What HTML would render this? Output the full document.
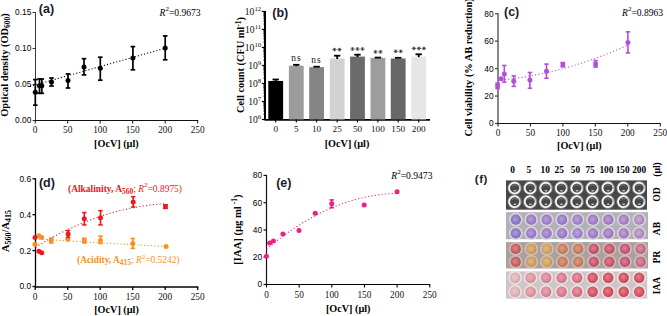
<!DOCTYPE html>
<html><head><meta charset="utf-8"><style>
html,body{margin:0;padding:0;background:#fff;}
body{width:667px;height:316px;overflow:hidden;}
svg{display:block;}
</style></head><body>
<svg width="667" height="316" viewBox="0 0 667 316">
<defs><radialGradient id="wg" cx="0.45" cy="0.45" r="0.6"><stop offset="0" stop-color="#fff" stop-opacity="0.32"/><stop offset="0.6" stop-color="#fff" stop-opacity="0.08"/><stop offset="1" stop-color="#000" stop-opacity="0.12"/></radialGradient></defs>
<rect width="667" height="316" fill="#fff"/>
<line x1="35.50" y1="12.00" x2="35.50" y2="121.00" stroke="#3a3a3a" stroke-width="1.0" />
<line x1="32.50" y1="120.50" x2="35.50" y2="120.50" stroke="#3a3a3a" stroke-width="1.0" />
<text x="31.30" y="123.40" font-size="8.4" text-anchor="end" font-weight="normal" font-family='"Liberation Sans", sans-serif' fill="#000" >0.00</text>
<line x1="32.50" y1="84.50" x2="35.50" y2="84.50" stroke="#3a3a3a" stroke-width="1.0" />
<text x="31.30" y="87.40" font-size="8.4" text-anchor="end" font-weight="normal" font-family='"Liberation Sans", sans-serif' fill="#000" >0.05</text>
<line x1="32.50" y1="48.50" x2="35.50" y2="48.50" stroke="#3a3a3a" stroke-width="1.0" />
<text x="31.30" y="51.40" font-size="8.4" text-anchor="end" font-weight="normal" font-family='"Liberation Sans", sans-serif' fill="#000" >0.10</text>
<line x1="32.50" y1="12.50" x2="35.50" y2="12.50" stroke="#3a3a3a" stroke-width="1.0" />
<text x="31.30" y="15.40" font-size="8.4" text-anchor="end" font-weight="normal" font-family='"Liberation Sans", sans-serif' fill="#000" >0.15</text>
<line x1="35.00" y1="120.50" x2="198.20" y2="120.50" stroke="#111" stroke-width="1.0" />
<line x1="35.20" y1="120.50" x2="35.20" y2="123.50" stroke="#111" stroke-width="1.0" />
<text x="35.20" y="133.30" font-size="9.3" text-anchor="middle" font-weight="normal" font-family='"Liberation Serif", serif' fill="#111" >0</text>
<line x1="67.70" y1="120.50" x2="67.70" y2="123.50" stroke="#111" stroke-width="1.0" />
<text x="67.70" y="133.30" font-size="9.3" text-anchor="middle" font-weight="normal" font-family='"Liberation Serif", serif' fill="#111" >50</text>
<line x1="100.20" y1="120.50" x2="100.20" y2="123.50" stroke="#111" stroke-width="1.0" />
<text x="100.20" y="133.30" font-size="9.3" text-anchor="middle" font-weight="normal" font-family='"Liberation Serif", serif' fill="#111" >100</text>
<line x1="132.70" y1="120.50" x2="132.70" y2="123.50" stroke="#111" stroke-width="1.0" />
<text x="132.70" y="133.30" font-size="9.3" text-anchor="middle" font-weight="normal" font-family='"Liberation Serif", serif' fill="#111" >150</text>
<line x1="165.20" y1="120.50" x2="165.20" y2="123.50" stroke="#111" stroke-width="1.0" />
<text x="165.20" y="133.30" font-size="9.3" text-anchor="middle" font-weight="normal" font-family='"Liberation Serif", serif' fill="#111" >200</text>
<line x1="197.70" y1="120.50" x2="197.70" y2="123.50" stroke="#111" stroke-width="1.0" />
<text x="197.70" y="133.30" font-size="9.3" text-anchor="middle" font-weight="normal" font-family='"Liberation Serif", serif' fill="#111" >250</text>
<text x="116.40" y="147.00" font-size="10.2" text-anchor="middle" font-weight="bold" font-family='"Liberation Serif", serif' fill="#000" >[OcV] (&#181;l)</text>
<text x="0" y="0" transform="translate(8.40,65.00) rotate(-90)" font-size="10.4" text-anchor="middle" font-weight="bold" font-family='"Liberation Serif", serif' fill="#000">Optical density (OD<tspan font-size="7.5" dy="2">600</tspan><tspan dy="-2">)</tspan></text>
<text x="38.80" y="13.20" font-size="12.5" text-anchor="start" font-weight="bold" font-family='"Liberation Sans", sans-serif' fill="#1a1a2a" >(a)</text>
<text x="159.50" y="15.50" font-size="9.6" text-anchor="start" font-weight="normal" font-family='"Liberation Serif", serif' fill="#000" ><tspan font-style="italic">R</tspan><tspan font-size="7" dy="-4.6">2</tspan><tspan dy="4.6">=0.9673</tspan></text>
<path d="M30.00,86.40 L165.20,48.20" fill="none" stroke="#000" stroke-width="1.1" stroke-dasharray="1.1 2.1"/>
<line x1="35.30" y1="79.60" x2="35.30" y2="105.20" stroke="#000" stroke-width="1.7" />
<line x1="33.00" y1="79.60" x2="37.60" y2="79.60" stroke="#000" stroke-width="1.7" />
<line x1="33.00" y1="105.20" x2="37.60" y2="105.20" stroke="#000" stroke-width="1.7" />
<circle cx="35.30" cy="92.30" r="2.5" fill="#000"/>
<line x1="39.50" y1="79.00" x2="39.50" y2="93.30" stroke="#000" stroke-width="1.7" />
<line x1="37.20" y1="79.00" x2="41.80" y2="79.00" stroke="#000" stroke-width="1.7" />
<line x1="37.20" y1="93.30" x2="41.80" y2="93.30" stroke="#000" stroke-width="1.7" />
<circle cx="39.50" cy="85.70" r="2.5" fill="#000"/>
<line x1="41.80" y1="79.00" x2="41.80" y2="93.30" stroke="#000" stroke-width="1.7" />
<line x1="39.50" y1="79.00" x2="44.10" y2="79.00" stroke="#000" stroke-width="1.7" />
<line x1="39.50" y1="93.30" x2="44.10" y2="93.30" stroke="#000" stroke-width="1.7" />
<circle cx="41.80" cy="85.70" r="2.5" fill="#000"/>
<line x1="51.50" y1="78.00" x2="51.50" y2="86.00" stroke="#000" stroke-width="1.7" />
<line x1="49.20" y1="78.00" x2="53.80" y2="78.00" stroke="#000" stroke-width="1.7" />
<line x1="49.20" y1="86.00" x2="53.80" y2="86.00" stroke="#000" stroke-width="1.7" />
<circle cx="51.50" cy="81.90" r="2.5" fill="#000"/>
<line x1="68.00" y1="73.90" x2="68.00" y2="88.00" stroke="#000" stroke-width="1.7" />
<line x1="65.70" y1="73.90" x2="70.30" y2="73.90" stroke="#000" stroke-width="1.7" />
<line x1="65.70" y1="88.00" x2="70.30" y2="88.00" stroke="#000" stroke-width="1.7" />
<circle cx="68.00" cy="80.50" r="2.5" fill="#000"/>
<line x1="84.00" y1="58.70" x2="84.00" y2="74.90" stroke="#000" stroke-width="1.7" />
<line x1="81.70" y1="58.70" x2="86.30" y2="58.70" stroke="#000" stroke-width="1.7" />
<line x1="81.70" y1="74.90" x2="86.30" y2="74.90" stroke="#000" stroke-width="1.7" />
<circle cx="84.00" cy="66.90" r="2.5" fill="#000"/>
<line x1="100.30" y1="57.20" x2="100.30" y2="80.20" stroke="#000" stroke-width="1.7" />
<line x1="98.00" y1="57.20" x2="102.60" y2="57.20" stroke="#000" stroke-width="1.7" />
<line x1="98.00" y1="80.20" x2="102.60" y2="80.20" stroke="#000" stroke-width="1.7" />
<circle cx="100.30" cy="68.30" r="2.5" fill="#000"/>
<line x1="132.90" y1="46.60" x2="132.90" y2="69.80" stroke="#000" stroke-width="1.7" />
<line x1="130.60" y1="46.60" x2="135.20" y2="46.60" stroke="#000" stroke-width="1.7" />
<line x1="130.60" y1="69.80" x2="135.20" y2="69.80" stroke="#000" stroke-width="1.7" />
<circle cx="132.90" cy="58.10" r="2.5" fill="#000"/>
<line x1="165.20" y1="35.90" x2="165.20" y2="59.80" stroke="#000" stroke-width="1.7" />
<line x1="162.90" y1="35.90" x2="167.50" y2="35.90" stroke="#000" stroke-width="1.7" />
<line x1="162.90" y1="59.80" x2="167.50" y2="59.80" stroke="#000" stroke-width="1.7" />
<circle cx="165.20" cy="47.90" r="2.5" fill="#000"/>
<line x1="265.00" y1="10.90" x2="265.00" y2="120.00" stroke="#000" stroke-width="2.0" />
<line x1="261.80" y1="11.40" x2="265.00" y2="11.40" stroke="#000" stroke-width="1.2" />
<text x="261.20" y="14.90" font-size="9.6" text-anchor="end" font-weight="normal" font-family='"Liberation Serif", serif' fill="#111" >10<tspan font-size="6.8" dy="-3.8">12</tspan></text>
<line x1="263.20" y1="23.99" x2="265.00" y2="23.99" stroke="#000" stroke-width="0.7" />
<line x1="263.20" y1="20.82" x2="265.00" y2="20.82" stroke="#000" stroke-width="0.7" />
<line x1="263.20" y1="18.57" x2="265.00" y2="18.57" stroke="#000" stroke-width="0.7" />
<line x1="263.20" y1="16.82" x2="265.00" y2="16.82" stroke="#000" stroke-width="0.7" />
<line x1="263.20" y1="15.40" x2="265.00" y2="15.40" stroke="#000" stroke-width="0.7" />
<line x1="263.20" y1="14.19" x2="265.00" y2="14.19" stroke="#000" stroke-width="0.7" />
<line x1="263.20" y1="13.15" x2="265.00" y2="13.15" stroke="#000" stroke-width="0.7" />
<line x1="263.20" y1="12.22" x2="265.00" y2="12.22" stroke="#000" stroke-width="0.7" />
<line x1="261.80" y1="29.42" x2="265.00" y2="29.42" stroke="#000" stroke-width="1.2" />
<text x="261.20" y="32.92" font-size="9.6" text-anchor="end" font-weight="normal" font-family='"Liberation Serif", serif' fill="#111" >10<tspan font-size="6.8" dy="-3.8">11</tspan></text>
<line x1="263.20" y1="42.01" x2="265.00" y2="42.01" stroke="#000" stroke-width="0.7" />
<line x1="263.20" y1="38.84" x2="265.00" y2="38.84" stroke="#000" stroke-width="0.7" />
<line x1="263.20" y1="36.59" x2="265.00" y2="36.59" stroke="#000" stroke-width="0.7" />
<line x1="263.20" y1="34.84" x2="265.00" y2="34.84" stroke="#000" stroke-width="0.7" />
<line x1="263.20" y1="33.41" x2="265.00" y2="33.41" stroke="#000" stroke-width="0.7" />
<line x1="263.20" y1="32.21" x2="265.00" y2="32.21" stroke="#000" stroke-width="0.7" />
<line x1="263.20" y1="31.16" x2="265.00" y2="31.16" stroke="#000" stroke-width="0.7" />
<line x1="263.20" y1="30.24" x2="265.00" y2="30.24" stroke="#000" stroke-width="0.7" />
<line x1="261.80" y1="47.43" x2="265.00" y2="47.43" stroke="#000" stroke-width="1.2" />
<text x="261.20" y="50.93" font-size="9.6" text-anchor="end" font-weight="normal" font-family='"Liberation Serif", serif' fill="#111" >10<tspan font-size="6.8" dy="-3.8">10</tspan></text>
<line x1="263.20" y1="60.03" x2="265.00" y2="60.03" stroke="#000" stroke-width="0.7" />
<line x1="263.20" y1="56.85" x2="265.00" y2="56.85" stroke="#000" stroke-width="0.7" />
<line x1="263.20" y1="54.60" x2="265.00" y2="54.60" stroke="#000" stroke-width="0.7" />
<line x1="263.20" y1="52.86" x2="265.00" y2="52.86" stroke="#000" stroke-width="0.7" />
<line x1="263.20" y1="51.43" x2="265.00" y2="51.43" stroke="#000" stroke-width="0.7" />
<line x1="263.20" y1="50.22" x2="265.00" y2="50.22" stroke="#000" stroke-width="0.7" />
<line x1="263.20" y1="49.18" x2="265.00" y2="49.18" stroke="#000" stroke-width="0.7" />
<line x1="263.20" y1="48.26" x2="265.00" y2="48.26" stroke="#000" stroke-width="0.7" />
<line x1="261.80" y1="65.45" x2="265.00" y2="65.45" stroke="#000" stroke-width="1.2" />
<text x="261.20" y="68.95" font-size="9.6" text-anchor="end" font-weight="normal" font-family='"Liberation Serif", serif' fill="#111" >10<tspan font-size="6.8" dy="-3.8">9</tspan></text>
<line x1="263.20" y1="78.04" x2="265.00" y2="78.04" stroke="#000" stroke-width="0.7" />
<line x1="263.20" y1="74.87" x2="265.00" y2="74.87" stroke="#000" stroke-width="0.7" />
<line x1="263.20" y1="72.62" x2="265.00" y2="72.62" stroke="#000" stroke-width="0.7" />
<line x1="263.20" y1="70.87" x2="265.00" y2="70.87" stroke="#000" stroke-width="0.7" />
<line x1="263.20" y1="69.45" x2="265.00" y2="69.45" stroke="#000" stroke-width="0.7" />
<line x1="263.20" y1="68.24" x2="265.00" y2="68.24" stroke="#000" stroke-width="0.7" />
<line x1="263.20" y1="67.20" x2="265.00" y2="67.20" stroke="#000" stroke-width="0.7" />
<line x1="263.20" y1="66.27" x2="265.00" y2="66.27" stroke="#000" stroke-width="0.7" />
<line x1="261.80" y1="83.47" x2="265.00" y2="83.47" stroke="#000" stroke-width="1.2" />
<text x="261.20" y="86.97" font-size="9.6" text-anchor="end" font-weight="normal" font-family='"Liberation Serif", serif' fill="#111" >10<tspan font-size="6.8" dy="-3.8">8</tspan></text>
<line x1="263.20" y1="96.06" x2="265.00" y2="96.06" stroke="#000" stroke-width="0.7" />
<line x1="263.20" y1="92.89" x2="265.00" y2="92.89" stroke="#000" stroke-width="0.7" />
<line x1="263.20" y1="90.64" x2="265.00" y2="90.64" stroke="#000" stroke-width="0.7" />
<line x1="263.20" y1="88.89" x2="265.00" y2="88.89" stroke="#000" stroke-width="0.7" />
<line x1="263.20" y1="87.46" x2="265.00" y2="87.46" stroke="#000" stroke-width="0.7" />
<line x1="263.20" y1="86.26" x2="265.00" y2="86.26" stroke="#000" stroke-width="0.7" />
<line x1="263.20" y1="85.21" x2="265.00" y2="85.21" stroke="#000" stroke-width="0.7" />
<line x1="263.20" y1="84.29" x2="265.00" y2="84.29" stroke="#000" stroke-width="0.7" />
<line x1="261.80" y1="101.48" x2="265.00" y2="101.48" stroke="#000" stroke-width="1.2" />
<text x="261.20" y="104.98" font-size="9.6" text-anchor="end" font-weight="normal" font-family='"Liberation Serif", serif' fill="#111" >10<tspan font-size="6.8" dy="-3.8">7</tspan></text>
<line x1="263.20" y1="114.08" x2="265.00" y2="114.08" stroke="#000" stroke-width="0.7" />
<line x1="263.20" y1="110.90" x2="265.00" y2="110.90" stroke="#000" stroke-width="0.7" />
<line x1="263.20" y1="108.65" x2="265.00" y2="108.65" stroke="#000" stroke-width="0.7" />
<line x1="263.20" y1="106.91" x2="265.00" y2="106.91" stroke="#000" stroke-width="0.7" />
<line x1="263.20" y1="105.48" x2="265.00" y2="105.48" stroke="#000" stroke-width="0.7" />
<line x1="263.20" y1="104.27" x2="265.00" y2="104.27" stroke="#000" stroke-width="0.7" />
<line x1="263.20" y1="103.23" x2="265.00" y2="103.23" stroke="#000" stroke-width="0.7" />
<line x1="263.20" y1="102.31" x2="265.00" y2="102.31" stroke="#000" stroke-width="0.7" />
<line x1="261.80" y1="119.50" x2="265.00" y2="119.50" stroke="#000" stroke-width="1.2" />
<text x="261.20" y="123.00" font-size="9.6" text-anchor="end" font-weight="normal" font-family='"Liberation Serif", serif' fill="#111" >10<tspan font-size="6.8" dy="-3.8">6</tspan></text>
<line x1="264.50" y1="119.80" x2="430.00" y2="119.80" stroke="#000" stroke-width="1.8" />
<rect x="268.30" y="81.00" width="14.8" height="38.50" fill="#000000"/>
<line x1="275.70" y1="79.50" x2="275.70" y2="81.50" stroke="#000" stroke-width="1.8" />
<line x1="272.50" y1="79.50" x2="278.90" y2="79.50" stroke="#000" stroke-width="1.8" />
<line x1="275.70" y1="119.50" x2="275.70" y2="122.50" stroke="#000" stroke-width="1.1" />
<text x="275.70" y="132.40" font-size="9.2" text-anchor="middle" font-weight="normal" font-family='"Liberation Serif", serif' fill="#111" >0</text>
<rect x="288.90" y="65.70" width="14.8" height="53.80" fill="#9c9c9c"/>
<line x1="296.30" y1="64.80" x2="296.30" y2="66.20" stroke="#000" stroke-width="1.8" />
<line x1="293.10" y1="64.80" x2="299.50" y2="64.80" stroke="#000" stroke-width="1.8" />
<line x1="296.30" y1="119.50" x2="296.30" y2="122.50" stroke="#000" stroke-width="1.1" />
<text x="296.30" y="132.40" font-size="9.2" text-anchor="middle" font-weight="normal" font-family='"Liberation Serif", serif' fill="#111" >5</text>
<rect x="309.20" y="67.10" width="14.8" height="52.40" fill="#858585"/>
<line x1="313.40" y1="66.70" x2="319.80" y2="66.70" stroke="#000" stroke-width="1.8" />
<line x1="316.60" y1="119.50" x2="316.60" y2="122.50" stroke="#000" stroke-width="1.1" />
<text x="316.60" y="132.40" font-size="9.2" text-anchor="middle" font-weight="normal" font-family='"Liberation Serif", serif' fill="#111" >10</text>
<rect x="329.80" y="58.50" width="14.8" height="61.00" fill="#d2d2d2"/>
<line x1="337.20" y1="55.70" x2="337.20" y2="59.00" stroke="#000" stroke-width="1.8" />
<line x1="334.00" y1="55.70" x2="340.40" y2="55.70" stroke="#000" stroke-width="1.8" />
<line x1="337.20" y1="119.50" x2="337.20" y2="122.50" stroke="#000" stroke-width="1.1" />
<text x="337.20" y="132.40" font-size="9.2" text-anchor="middle" font-weight="normal" font-family='"Liberation Serif", serif' fill="#111" >25</text>
<rect x="350.10" y="56.60" width="14.8" height="62.90" fill="#6b6b6b"/>
<line x1="357.50" y1="54.70" x2="357.50" y2="57.10" stroke="#000" stroke-width="1.8" />
<line x1="354.30" y1="54.70" x2="360.70" y2="54.70" stroke="#000" stroke-width="1.8" />
<line x1="357.50" y1="119.50" x2="357.50" y2="122.50" stroke="#000" stroke-width="1.1" />
<text x="357.50" y="132.40" font-size="9.2" text-anchor="middle" font-weight="normal" font-family='"Liberation Serif", serif' fill="#111" >50</text>
<rect x="370.50" y="57.90" width="14.8" height="61.60" fill="#9d9d9d"/>
<line x1="374.70" y1="57.60" x2="381.10" y2="57.60" stroke="#000" stroke-width="1.8" />
<line x1="377.90" y1="119.50" x2="377.90" y2="122.50" stroke="#000" stroke-width="1.1" />
<text x="377.90" y="132.40" font-size="9.2" text-anchor="middle" font-weight="normal" font-family='"Liberation Serif", serif' fill="#111" >100</text>
<rect x="390.80" y="58.50" width="14.8" height="61.00" fill="#676767"/>
<line x1="395.00" y1="57.80" x2="401.40" y2="57.80" stroke="#000" stroke-width="1.8" />
<line x1="398.20" y1="119.50" x2="398.20" y2="122.50" stroke="#000" stroke-width="1.1" />
<text x="398.20" y="132.40" font-size="9.2" text-anchor="middle" font-weight="normal" font-family='"Liberation Serif", serif' fill="#111" >150</text>
<rect x="411.30" y="56.60" width="14.8" height="62.90" fill="#e6e6e6"/>
<line x1="418.70" y1="54.30" x2="418.70" y2="57.10" stroke="#000" stroke-width="1.8" />
<line x1="415.50" y1="54.30" x2="421.90" y2="54.30" stroke="#000" stroke-width="1.8" />
<line x1="418.70" y1="119.50" x2="418.70" y2="122.50" stroke="#000" stroke-width="1.1" />
<text x="418.70" y="132.40" font-size="9.2" text-anchor="middle" font-weight="normal" font-family='"Liberation Serif", serif' fill="#111" >200</text>
<text x="296.50" y="61.10" font-size="9.4" text-anchor="middle" font-weight="normal" font-family='"Liberation Serif", serif' fill="#111" letter-spacing="1.2">ns</text>
<text x="316.60" y="63.00" font-size="9.4" text-anchor="middle" font-weight="normal" font-family='"Liberation Serif", serif' fill="#111" letter-spacing="1.2">ns</text>
<path d="M332.30,49.60 L336.70,49.60 M333.40,48.08 L335.60,51.12 M335.60,48.08 L333.40,51.12 M334.50,47.80 L334.50,51.40" stroke="#333" stroke-width="0.75" fill="none"/>
<path d="M337.30,49.60 L341.70,49.60 M338.40,48.08 L340.60,51.12 M340.60,48.08 L338.40,51.12 M339.50,47.80 L339.50,51.40" stroke="#333" stroke-width="0.75" fill="none"/>
<path d="M350.30,49.00 L354.70,49.00 M351.40,47.48 L353.60,50.52 M353.60,47.48 L351.40,50.52 M352.50,47.20 L352.50,50.80" stroke="#333" stroke-width="0.75" fill="none"/>
<path d="M355.30,49.00 L359.70,49.00 M356.40,47.48 L358.60,50.52 M358.60,47.48 L356.40,50.52 M357.50,47.20 L357.50,50.80" stroke="#333" stroke-width="0.75" fill="none"/>
<path d="M360.30,49.00 L364.70,49.00 M361.40,47.48 L363.60,50.52 M363.60,47.48 L361.40,50.52 M362.50,47.20 L362.50,50.80" stroke="#333" stroke-width="0.75" fill="none"/>
<path d="M373.30,51.90 L377.70,51.90 M374.40,50.38 L376.60,53.42 M376.60,50.38 L374.40,53.42 M375.50,50.10 L375.50,53.70" stroke="#333" stroke-width="0.75" fill="none"/>
<path d="M378.30,51.90 L382.70,51.90 M379.40,50.38 L381.60,53.42 M381.60,50.38 L379.40,53.42 M380.50,50.10 L380.50,53.70" stroke="#333" stroke-width="0.75" fill="none"/>
<path d="M393.50,51.30 L397.90,51.30 M394.60,49.78 L396.80,52.82 M396.80,49.78 L394.60,52.82 M395.70,49.50 L395.70,53.10" stroke="#333" stroke-width="0.75" fill="none"/>
<path d="M398.50,51.30 L402.90,51.30 M399.60,49.78 L401.80,52.82 M401.80,49.78 L399.60,52.82 M400.70,49.50 L400.70,53.10" stroke="#333" stroke-width="0.75" fill="none"/>
<path d="M411.70,48.40 L416.10,48.40 M412.80,46.88 L415.00,49.92 M415.00,46.88 L412.80,49.92 M413.90,46.60 L413.90,50.20" stroke="#333" stroke-width="0.75" fill="none"/>
<path d="M416.70,48.40 L421.10,48.40 M417.80,46.88 L420.00,49.92 M420.00,46.88 L417.80,49.92 M418.90,46.60 L418.90,50.20" stroke="#333" stroke-width="0.75" fill="none"/>
<path d="M421.70,48.40 L426.10,48.40 M422.80,46.88 L425.00,49.92 M425.00,46.88 L422.80,49.92 M423.90,46.60 L423.90,50.20" stroke="#333" stroke-width="0.75" fill="none"/>
<text x="347.00" y="146.50" font-size="10.2" text-anchor="middle" font-weight="bold" font-family='"Liberation Serif", serif' fill="#000" >[OcV] (&#181;l)</text>
<text x="0" y="0" transform="translate(244.30,65.00) rotate(-90)" font-size="10.3" text-anchor="middle" font-weight="bold" font-family='"Liberation Serif", serif' fill="#000">Cell count (CFU ml<tspan font-size="7.5" dy="-3.5">-1</tspan><tspan dy="3.5">)</tspan></text>
<text x="272.30" y="16.60" font-size="12.5" text-anchor="start" font-weight="bold" font-family='"Liberation Sans", sans-serif' fill="#1a1a2a" >(b)</text>
<line x1="498.00" y1="13.20" x2="498.00" y2="124.00" stroke="#555" stroke-width="1.4" />
<line x1="495.00" y1="123.50" x2="498.00" y2="123.50" stroke="#555" stroke-width="1.4" />
<text x="493.60" y="126.40" font-size="8.4" text-anchor="end" font-weight="normal" font-family='"Liberation Sans", sans-serif' fill="#000" >0</text>
<line x1="495.00" y1="96.05" x2="498.00" y2="96.05" stroke="#555" stroke-width="1.4" />
<text x="493.60" y="98.95" font-size="8.4" text-anchor="end" font-weight="normal" font-family='"Liberation Sans", sans-serif' fill="#000" >20</text>
<line x1="495.00" y1="68.60" x2="498.00" y2="68.60" stroke="#555" stroke-width="1.4" />
<text x="493.60" y="71.50" font-size="8.4" text-anchor="end" font-weight="normal" font-family='"Liberation Sans", sans-serif' fill="#000" >40</text>
<line x1="495.00" y1="41.15" x2="498.00" y2="41.15" stroke="#555" stroke-width="1.4" />
<text x="493.60" y="44.05" font-size="8.4" text-anchor="end" font-weight="normal" font-family='"Liberation Sans", sans-serif' fill="#000" >60</text>
<line x1="495.00" y1="13.70" x2="498.00" y2="13.70" stroke="#555" stroke-width="1.4" />
<text x="493.60" y="16.60" font-size="8.4" text-anchor="end" font-weight="normal" font-family='"Liberation Sans", sans-serif' fill="#000" >80</text>
<line x1="497.50" y1="123.50" x2="660.75" y2="123.50" stroke="#111" stroke-width="1.0" />
<line x1="498.00" y1="123.50" x2="498.00" y2="126.50" stroke="#111" stroke-width="1.0" />
<text x="498.00" y="135.90" font-size="9.3" text-anchor="middle" font-weight="normal" font-family='"Liberation Serif", serif' fill="#111" >0</text>
<line x1="530.45" y1="123.50" x2="530.45" y2="126.50" stroke="#111" stroke-width="1.0" />
<text x="530.45" y="135.90" font-size="9.3" text-anchor="middle" font-weight="normal" font-family='"Liberation Serif", serif' fill="#111" >50</text>
<line x1="562.90" y1="123.50" x2="562.90" y2="126.50" stroke="#111" stroke-width="1.0" />
<text x="562.90" y="135.90" font-size="9.3" text-anchor="middle" font-weight="normal" font-family='"Liberation Serif", serif' fill="#111" >100</text>
<line x1="595.35" y1="123.50" x2="595.35" y2="126.50" stroke="#111" stroke-width="1.0" />
<text x="595.35" y="135.90" font-size="9.3" text-anchor="middle" font-weight="normal" font-family='"Liberation Serif", serif' fill="#111" >150</text>
<line x1="627.80" y1="123.50" x2="627.80" y2="126.50" stroke="#111" stroke-width="1.0" />
<text x="627.80" y="135.90" font-size="9.3" text-anchor="middle" font-weight="normal" font-family='"Liberation Serif", serif' fill="#111" >200</text>
<line x1="660.25" y1="123.50" x2="660.25" y2="126.50" stroke="#111" stroke-width="1.0" />
<text x="660.25" y="135.90" font-size="9.3" text-anchor="middle" font-weight="normal" font-family='"Liberation Serif", serif' fill="#111" >250</text>
<text x="579.30" y="149.30" font-size="10.2" text-anchor="middle" font-weight="bold" font-family='"Liberation Serif", serif' fill="#000" >[OcV] (&#181;l)</text>
<text x="0" y="0" transform="translate(471.70,67.40) rotate(-90)" font-size="10.4" text-anchor="middle" font-weight="bold" font-family='"Liberation Serif", serif' fill="#000">Cell viability (% AB reduction)</text>
<text x="504.00" y="16.00" font-size="12.5" text-anchor="start" font-weight="bold" font-family='"Liberation Sans", sans-serif' fill="#1a1a2a" >(c)</text>
<text x="622.00" y="16.00" font-size="9.6" text-anchor="start" font-weight="normal" font-family='"Liberation Serif", serif' fill="#000" ><tspan font-style="italic">R</tspan><tspan font-size="7" dy="-4.6">2</tspan><tspan dy="4.6">=0.8963</tspan></text>
<path d="M498.00,80.27 L501.25,79.97 L504.49,79.63 L507.74,79.27 L510.98,78.88 L514.23,78.46 L517.47,78.02 L520.72,77.54 L523.96,77.03 L527.21,76.49 L530.45,75.92 L533.70,75.33 L536.94,74.70 L540.18,74.04 L543.43,73.36 L546.67,72.64 L549.92,71.90 L553.16,71.12 L556.41,70.32 L559.65,69.49 L562.90,68.62 L566.14,67.73 L569.39,66.81 L572.63,65.85 L575.88,64.87 L579.12,63.86 L582.37,62.82 L585.62,61.75 L588.86,60.65 L592.11,59.52 L595.35,58.36 L598.60,57.17 L601.84,55.96 L605.09,54.71 L608.33,53.43 L611.58,52.12 L614.82,50.79 L618.07,49.42 L621.31,48.03 L624.56,46.60 L627.80,45.15" fill="none" stroke="#b04fd8" stroke-width="1.1" stroke-dasharray="1.1 2.3"/>
<line x1="497.60" y1="83.10" x2="497.60" y2="88.60" stroke="#b04fd8" stroke-width="1.6" />
<line x1="495.40" y1="83.10" x2="499.80" y2="83.10" stroke="#b04fd8" stroke-width="1.6" />
<line x1="495.40" y1="88.60" x2="499.80" y2="88.60" stroke="#b04fd8" stroke-width="1.6" />
<rect x="495.30" y="83.50" width="4.6" height="4.6" fill="#b04fd8"/>
<circle cx="501.00" cy="78.80" r="2.5" fill="#b04fd8"/>
<line x1="504.30" y1="65.50" x2="504.30" y2="82.20" stroke="#b04fd8" stroke-width="1.6" />
<line x1="502.10" y1="65.50" x2="506.50" y2="65.50" stroke="#b04fd8" stroke-width="1.6" />
<line x1="502.10" y1="82.20" x2="506.50" y2="82.20" stroke="#b04fd8" stroke-width="1.6" />
<circle cx="504.30" cy="74.00" r="2.5" fill="#b04fd8"/>
<line x1="513.80" y1="75.90" x2="513.80" y2="86.40" stroke="#b04fd8" stroke-width="1.6" />
<line x1="511.60" y1="75.90" x2="516.00" y2="75.90" stroke="#b04fd8" stroke-width="1.6" />
<line x1="511.60" y1="86.40" x2="516.00" y2="86.40" stroke="#b04fd8" stroke-width="1.6" />
<circle cx="513.80" cy="81.20" r="2.5" fill="#b04fd8"/>
<line x1="529.90" y1="72.50" x2="529.90" y2="88.30" stroke="#b04fd8" stroke-width="1.6" />
<line x1="527.70" y1="72.50" x2="532.10" y2="72.50" stroke="#b04fd8" stroke-width="1.6" />
<line x1="527.70" y1="88.30" x2="532.10" y2="88.30" stroke="#b04fd8" stroke-width="1.6" />
<circle cx="529.90" cy="80.10" r="2.5" fill="#b04fd8"/>
<line x1="546.50" y1="64.10" x2="546.50" y2="78.20" stroke="#b04fd8" stroke-width="1.6" />
<line x1="544.30" y1="64.10" x2="548.70" y2="64.10" stroke="#b04fd8" stroke-width="1.6" />
<line x1="544.30" y1="78.20" x2="548.70" y2="78.20" stroke="#b04fd8" stroke-width="1.6" />
<circle cx="546.50" cy="71.20" r="2.5" fill="#b04fd8"/>
<line x1="562.80" y1="62.60" x2="562.80" y2="66.80" stroke="#b04fd8" stroke-width="1.6" />
<line x1="560.60" y1="62.60" x2="565.00" y2="62.60" stroke="#b04fd8" stroke-width="1.6" />
<line x1="560.60" y1="66.80" x2="565.00" y2="66.80" stroke="#b04fd8" stroke-width="1.6" />
<rect x="560.50" y="62.20" width="4.6" height="4.6" fill="#b04fd8"/>
<line x1="595.60" y1="60.50" x2="595.60" y2="67.10" stroke="#b04fd8" stroke-width="1.6" />
<line x1="593.40" y1="60.50" x2="597.80" y2="60.50" stroke="#b04fd8" stroke-width="1.6" />
<line x1="593.40" y1="67.10" x2="597.80" y2="67.10" stroke="#b04fd8" stroke-width="1.6" />
<rect x="593.30" y="61.80" width="4.6" height="4.6" fill="#b04fd8"/>
<line x1="627.90" y1="31.80" x2="627.90" y2="52.90" stroke="#b04fd8" stroke-width="1.6" />
<line x1="625.70" y1="31.80" x2="630.10" y2="31.80" stroke="#b04fd8" stroke-width="1.6" />
<line x1="625.70" y1="52.90" x2="630.10" y2="52.90" stroke="#b04fd8" stroke-width="1.6" />
<circle cx="627.90" cy="42.40" r="2.5" fill="#b04fd8"/>
<line x1="35.50" y1="178.30" x2="35.50" y2="287.00" stroke="#000" stroke-width="1.3" />
<line x1="32.50" y1="286.50" x2="35.50" y2="286.50" stroke="#000" stroke-width="1.3" />
<text x="31.10" y="289.40" font-size="8.4" text-anchor="end" font-weight="normal" font-family='"Liberation Sans", sans-serif' fill="#000" >0.0</text>
<line x1="32.50" y1="250.60" x2="35.50" y2="250.60" stroke="#000" stroke-width="1.3" />
<text x="31.10" y="253.50" font-size="8.4" text-anchor="end" font-weight="normal" font-family='"Liberation Sans", sans-serif' fill="#000" >0.2</text>
<line x1="32.50" y1="214.70" x2="35.50" y2="214.70" stroke="#000" stroke-width="1.3" />
<text x="31.10" y="217.60" font-size="8.4" text-anchor="end" font-weight="normal" font-family='"Liberation Sans", sans-serif' fill="#000" >0.4</text>
<line x1="32.50" y1="178.80" x2="35.50" y2="178.80" stroke="#000" stroke-width="1.3" />
<text x="31.10" y="181.70" font-size="8.4" text-anchor="end" font-weight="normal" font-family='"Liberation Sans", sans-serif' fill="#000" >0.6</text>
<line x1="35.00" y1="287.00" x2="198.30" y2="287.00" stroke="#000" stroke-width="1.3" />
<line x1="35.20" y1="287.00" x2="35.20" y2="290.00" stroke="#000" stroke-width="1.3" />
<text x="35.20" y="299.60" font-size="9.3" text-anchor="middle" font-weight="normal" font-family='"Liberation Serif", serif' fill="#111" >0</text>
<line x1="67.70" y1="287.00" x2="67.70" y2="290.00" stroke="#000" stroke-width="1.3" />
<text x="67.70" y="299.60" font-size="9.3" text-anchor="middle" font-weight="normal" font-family='"Liberation Serif", serif' fill="#111" >50</text>
<line x1="100.20" y1="287.00" x2="100.20" y2="290.00" stroke="#000" stroke-width="1.3" />
<text x="100.20" y="299.60" font-size="9.3" text-anchor="middle" font-weight="normal" font-family='"Liberation Serif", serif' fill="#111" >100</text>
<line x1="132.70" y1="287.00" x2="132.70" y2="290.00" stroke="#000" stroke-width="1.3" />
<text x="132.70" y="299.60" font-size="9.3" text-anchor="middle" font-weight="normal" font-family='"Liberation Serif", serif' fill="#111" >150</text>
<line x1="165.20" y1="287.00" x2="165.20" y2="290.00" stroke="#000" stroke-width="1.3" />
<text x="165.20" y="299.60" font-size="9.3" text-anchor="middle" font-weight="normal" font-family='"Liberation Serif", serif' fill="#111" >200</text>
<line x1="197.70" y1="287.00" x2="197.70" y2="290.00" stroke="#000" stroke-width="1.3" />
<text x="197.70" y="299.60" font-size="9.3" text-anchor="middle" font-weight="normal" font-family='"Liberation Serif", serif' fill="#111" >250</text>
<text x="116.50" y="312.90" font-size="10.2" text-anchor="middle" font-weight="bold" font-family='"Liberation Serif", serif' fill="#000" >[OcV] (&#181;l)</text>
<text x="0" y="0" transform="translate(8.60,231.00) rotate(-90)" font-size="10.4" text-anchor="middle" font-weight="bold" font-family='"Liberation Serif", serif' fill="#000">A<tspan font-size="8" dy="2">560</tspan><tspan dy="-2">/A</tspan><tspan font-size="8" dy="2">415</tspan></text>
<text x="38.90" y="186.50" font-size="12.5" text-anchor="start" font-weight="bold" font-family='"Liberation Sans", sans-serif' fill="#1a1a2a" >(d)</text>
<path d="M35.50,247.23 L38.75,245.25 L42.00,243.31 L45.25,241.42 L48.50,239.58 L51.75,237.78 L55.00,236.03 L58.25,234.32 L61.50,232.66 L64.75,231.05 L68.00,229.48 L71.25,227.96 L74.50,226.48 L77.75,225.05 L81.00,223.67 L84.25,222.33 L87.50,221.03 L90.75,219.79 L94.00,218.58 L97.25,217.43 L100.50,216.32 L103.75,215.25 L107.00,214.24 L110.25,213.26 L113.50,212.34 L116.75,211.46 L120.00,210.62 L123.25,209.83 L126.50,209.09 L129.75,208.39 L133.00,207.74 L136.25,207.14 L139.50,206.58 L142.75,206.06 L146.00,205.60 L149.25,205.17 L152.50,204.80 L155.75,204.47 L159.00,204.18 L162.25,203.94 L165.50,203.75" fill="none" stroke="#ee1620" stroke-width="1.1" stroke-dasharray="1.1 2.3"/>
<path d="M35.50,239.00 L166.10,246.60" fill="none" stroke="#f7901e" stroke-width="1.1" stroke-dasharray="1.1 2.3"/>
<circle cx="35.00" cy="244.20" r="2.5" fill="#f7901e"/>
<circle cx="38.90" cy="235.70" r="2.5" fill="#f7901e"/>
<circle cx="41.70" cy="237.60" r="2.5" fill="#f7901e"/>
<line x1="51.20" y1="238.00" x2="51.20" y2="243.00" stroke="#f7901e" stroke-width="1.6" />
<line x1="49.00" y1="238.00" x2="53.40" y2="238.00" stroke="#f7901e" stroke-width="1.6" />
<line x1="49.00" y1="243.00" x2="53.40" y2="243.00" stroke="#f7901e" stroke-width="1.6" />
<rect x="48.90" y="238.10" width="4.6" height="4.6" fill="#f7901e"/>
<circle cx="67.80" cy="239.30" r="2.5" fill="#f7901e"/>
<line x1="84.30" y1="238.30" x2="84.30" y2="243.00" stroke="#f7901e" stroke-width="1.6" />
<line x1="82.10" y1="238.30" x2="86.50" y2="238.30" stroke="#f7901e" stroke-width="1.6" />
<line x1="82.10" y1="243.00" x2="86.50" y2="243.00" stroke="#f7901e" stroke-width="1.6" />
<rect x="82.00" y="238.10" width="4.6" height="4.6" fill="#f7901e"/>
<line x1="100.50" y1="236.20" x2="100.50" y2="243.50" stroke="#f7901e" stroke-width="1.6" />
<line x1="98.30" y1="236.20" x2="102.70" y2="236.20" stroke="#f7901e" stroke-width="1.6" />
<line x1="98.30" y1="243.50" x2="102.70" y2="243.50" stroke="#f7901e" stroke-width="1.6" />
<circle cx="100.50" cy="240.40" r="2.5" fill="#f7901e"/>
<line x1="132.80" y1="238.50" x2="132.80" y2="248.40" stroke="#f7901e" stroke-width="1.6" />
<line x1="130.60" y1="238.50" x2="135.00" y2="238.50" stroke="#f7901e" stroke-width="1.6" />
<line x1="130.60" y1="248.40" x2="135.00" y2="248.40" stroke="#f7901e" stroke-width="1.6" />
<circle cx="132.80" cy="243.50" r="2.5" fill="#f7901e"/>
<circle cx="166.10" cy="246.60" r="2.5" fill="#f7901e"/>
<circle cx="35.00" cy="237.60" r="2.5" fill="#ee1620"/>
<circle cx="38.90" cy="251.30" r="2.5" fill="#ee1620"/>
<circle cx="41.70" cy="252.80" r="2.5" fill="#ee1620"/>
<line x1="68.10" y1="230.60" x2="68.10" y2="237.30" stroke="#ee1620" stroke-width="1.6" />
<line x1="65.90" y1="230.60" x2="70.30" y2="230.60" stroke="#ee1620" stroke-width="1.6" />
<line x1="65.90" y1="237.30" x2="70.30" y2="237.30" stroke="#ee1620" stroke-width="1.6" />
<circle cx="68.10" cy="234.00" r="2.5" fill="#ee1620"/>
<line x1="84.30" y1="212.60" x2="84.30" y2="224.90" stroke="#ee1620" stroke-width="1.6" />
<line x1="82.10" y1="212.60" x2="86.50" y2="212.60" stroke="#ee1620" stroke-width="1.6" />
<line x1="82.10" y1="224.90" x2="86.50" y2="224.90" stroke="#ee1620" stroke-width="1.6" />
<circle cx="84.30" cy="218.80" r="2.5" fill="#ee1620"/>
<line x1="100.50" y1="210.70" x2="100.50" y2="224.90" stroke="#ee1620" stroke-width="1.6" />
<line x1="98.30" y1="210.70" x2="102.70" y2="210.70" stroke="#ee1620" stroke-width="1.6" />
<line x1="98.30" y1="224.90" x2="102.70" y2="224.90" stroke="#ee1620" stroke-width="1.6" />
<circle cx="100.50" cy="217.70" r="2.5" fill="#ee1620"/>
<line x1="133.20" y1="196.70" x2="133.20" y2="207.00" stroke="#ee1620" stroke-width="1.6" />
<line x1="131.00" y1="196.70" x2="135.40" y2="196.70" stroke="#ee1620" stroke-width="1.6" />
<line x1="131.00" y1="207.00" x2="135.40" y2="207.00" stroke="#ee1620" stroke-width="1.6" />
<circle cx="133.20" cy="201.90" r="2.5" fill="#ee1620"/>
<line x1="165.50" y1="204.80" x2="165.50" y2="208.40" stroke="#ee1620" stroke-width="1.6" />
<line x1="163.30" y1="204.80" x2="167.70" y2="204.80" stroke="#ee1620" stroke-width="1.6" />
<line x1="163.30" y1="208.40" x2="167.70" y2="208.40" stroke="#ee1620" stroke-width="1.6" />
<rect x="163.20" y="204.30" width="4.6" height="4.6" fill="#ee1620"/>
<text x="68.0" y="191.8" font-size="9.4" font-family='"Liberation Serif", serif' fill="#ee1620" textLength="114" lengthAdjust="spacingAndGlyphs"><tspan font-weight="bold">(Alkalinity, A</tspan><tspan font-size="7.4" dy="2.2" font-weight="bold">560</tspan><tspan dy="-2.2">; </tspan><tspan font-style="italic">R</tspan><tspan font-size="7" dy="-4.4">2</tspan><tspan dy="4.4">=0.8975)</tspan></text>
<text x="77.0" y="263.0" font-size="9.4" font-family='"Liberation Serif", serif' fill="#f7901e" textLength="102.5" lengthAdjust="spacingAndGlyphs"><tspan font-weight="bold">(Acidity, A</tspan><tspan font-size="7.4" dy="2.2" font-weight="bold">415</tspan><tspan dy="-2.2">; </tspan><tspan font-style="italic">R</tspan><tspan font-size="7" dy="-4.4">2</tspan><tspan dy="4.4">=0.5242)</tspan></text>
<line x1="266.50" y1="174.90" x2="266.50" y2="285.00" stroke="#111" stroke-width="1.2" />
<line x1="263.50" y1="284.50" x2="266.50" y2="284.50" stroke="#111" stroke-width="1.2" />
<text x="262.10" y="287.40" font-size="8.4" text-anchor="end" font-weight="normal" font-family='"Liberation Sans", sans-serif' fill="#000" >0</text>
<line x1="263.50" y1="257.23" x2="266.50" y2="257.23" stroke="#111" stroke-width="1.2" />
<text x="262.10" y="260.12" font-size="8.4" text-anchor="end" font-weight="normal" font-family='"Liberation Sans", sans-serif' fill="#000" >20</text>
<line x1="263.50" y1="229.95" x2="266.50" y2="229.95" stroke="#111" stroke-width="1.2" />
<text x="262.10" y="232.85" font-size="8.4" text-anchor="end" font-weight="normal" font-family='"Liberation Sans", sans-serif' fill="#000" >40</text>
<line x1="263.50" y1="202.68" x2="266.50" y2="202.68" stroke="#111" stroke-width="1.2" />
<text x="262.10" y="205.58" font-size="8.4" text-anchor="end" font-weight="normal" font-family='"Liberation Sans", sans-serif' fill="#000" >60</text>
<line x1="263.50" y1="175.40" x2="266.50" y2="175.40" stroke="#111" stroke-width="1.2" />
<text x="262.10" y="178.30" font-size="8.4" text-anchor="end" font-weight="normal" font-family='"Liberation Sans", sans-serif' fill="#000" >80</text>
<line x1="266.00" y1="284.50" x2="430.25" y2="284.50" stroke="#000" stroke-width="1.1" />
<line x1="266.50" y1="284.50" x2="266.50" y2="287.50" stroke="#000" stroke-width="1.1" />
<text x="266.50" y="297.50" font-size="9.3" text-anchor="middle" font-weight="normal" font-family='"Liberation Serif", serif' fill="#111" >0</text>
<line x1="299.15" y1="284.50" x2="299.15" y2="287.50" stroke="#000" stroke-width="1.1" />
<text x="299.15" y="297.50" font-size="9.3" text-anchor="middle" font-weight="normal" font-family='"Liberation Serif", serif' fill="#111" >50</text>
<line x1="331.80" y1="284.50" x2="331.80" y2="287.50" stroke="#000" stroke-width="1.1" />
<text x="331.80" y="297.50" font-size="9.3" text-anchor="middle" font-weight="normal" font-family='"Liberation Serif", serif' fill="#111" >100</text>
<line x1="364.45" y1="284.50" x2="364.45" y2="287.50" stroke="#000" stroke-width="1.1" />
<text x="364.45" y="297.50" font-size="9.3" text-anchor="middle" font-weight="normal" font-family='"Liberation Serif", serif' fill="#111" >150</text>
<line x1="397.10" y1="284.50" x2="397.10" y2="287.50" stroke="#000" stroke-width="1.1" />
<text x="397.10" y="297.50" font-size="9.3" text-anchor="middle" font-weight="normal" font-family='"Liberation Serif", serif' fill="#111" >200</text>
<line x1="429.75" y1="284.50" x2="429.75" y2="287.50" stroke="#000" stroke-width="1.1" />
<text x="429.75" y="297.50" font-size="9.3" text-anchor="middle" font-weight="normal" font-family='"Liberation Serif", serif' fill="#111" >250</text>
<text x="348.20" y="311.50" font-size="10.2" text-anchor="middle" font-weight="bold" font-family='"Liberation Serif", serif' fill="#000" >[OcV] (&#181;l)</text>
<text x="0" y="0" transform="translate(240.60,229.60) rotate(-90)" font-size="10.6" text-anchor="middle" font-weight="bold" font-family='"Liberation Serif", serif' fill="#000">[IAA] (&#181;g ml<tspan font-size="7.5" dy="-3.5"> -1</tspan><tspan dy="3.5">)</tspan></text>
<text x="276.20" y="187.40" font-size="12.5" text-anchor="start" font-weight="bold" font-family='"Liberation Sans", sans-serif' fill="#1a1a2a" >(e)</text>
<text x="391.30" y="179.00" font-size="9.6" text-anchor="start" font-weight="normal" font-family='"Liberation Serif", serif' fill="#000" ><tspan font-style="italic">R</tspan><tspan font-size="7" dy="-4.6">2</tspan><tspan dy="4.6">=0.9473</tspan></text>
<path d="M266.50,249.04 L269.76,246.35 L273.03,243.72 L276.30,241.16 L279.56,238.67 L282.82,236.24 L286.09,233.88 L289.36,231.59 L292.62,229.36 L295.88,227.20 L299.15,225.11 L302.42,223.08 L305.68,221.12 L308.94,219.23 L312.21,217.41 L315.48,215.65 L318.74,213.96 L322.00,212.33 L325.27,210.77 L328.54,209.28 L331.80,207.86 L335.06,206.50 L338.33,205.21 L341.60,203.98 L344.86,202.83 L348.12,201.74 L351.39,200.71 L354.65,199.76 L357.92,198.87 L361.19,198.04 L364.45,197.29 L367.72,196.60 L370.98,195.98 L374.25,195.42 L377.51,194.93 L380.77,194.51 L384.04,194.15 L387.31,193.87 L390.57,193.64 L393.84,193.49 L397.10,193.40" fill="none" stroke="#ee1f80" stroke-width="1.1" stroke-dasharray="1.1 2.3"/>
<line x1="331.70" y1="199.90" x2="331.70" y2="207.70" stroke="#ee1f80" stroke-width="1.6" />
<line x1="329.50" y1="199.90" x2="333.90" y2="199.90" stroke="#ee1f80" stroke-width="1.6" />
<line x1="329.50" y1="207.70" x2="333.90" y2="207.70" stroke="#ee1f80" stroke-width="1.6" />
<circle cx="266.40" cy="256.30" r="2.5" fill="#ee1f80"/>
<circle cx="269.60" cy="243.00" r="2.5" fill="#ee1f80"/>
<circle cx="273.40" cy="241.10" r="2.5" fill="#ee1f80"/>
<circle cx="282.90" cy="234.10" r="2.5" fill="#ee1f80"/>
<circle cx="299.00" cy="230.50" r="2.5" fill="#ee1f80"/>
<circle cx="315.20" cy="213.20" r="2.5" fill="#ee1f80"/>
<circle cx="331.70" cy="203.70" r="2.5" fill="#ee1f80"/>
<circle cx="364.20" cy="205.00" r="2.5" fill="#ee1f80"/>
<circle cx="397.10" cy="191.70" r="2.5" fill="#ee1f80"/>
<text x="474.80" y="182.90" font-size="11.5" text-anchor="start" font-weight="bold" font-family='"Liberation Sans", sans-serif' fill="#1a1a2a" letter-spacing="0.5">(f)</text>
<text x="512.70" y="173.20" font-size="9.3" text-anchor="middle" font-weight="bold" font-family='"Liberation Serif", serif' fill="#000" >0</text>
<text x="528.90" y="173.20" font-size="9.3" text-anchor="middle" font-weight="bold" font-family='"Liberation Serif", serif' fill="#000" >5</text>
<text x="545.20" y="173.20" font-size="9.3" text-anchor="middle" font-weight="bold" font-family='"Liberation Serif", serif' fill="#000" >10</text>
<text x="559.20" y="173.20" font-size="9.3" text-anchor="middle" font-weight="bold" font-family='"Liberation Serif", serif' fill="#000" >25</text>
<text x="575.50" y="173.20" font-size="9.3" text-anchor="middle" font-weight="bold" font-family='"Liberation Serif", serif' fill="#000" >50</text>
<text x="590.10" y="173.20" font-size="9.3" text-anchor="middle" font-weight="bold" font-family='"Liberation Serif", serif' fill="#000" >75</text>
<text x="606.40" y="173.20" font-size="9.3" text-anchor="middle" font-weight="bold" font-family='"Liberation Serif", serif' fill="#000" >100</text>
<text x="622.70" y="173.20" font-size="9.3" text-anchor="middle" font-weight="bold" font-family='"Liberation Serif", serif' fill="#000" >150</text>
<text x="639.20" y="173.20" font-size="9.3" text-anchor="middle" font-weight="bold" font-family='"Liberation Serif", serif' fill="#000" >200</text>
<text x="0" y="0" transform="translate(660.20,169.50) rotate(-90)" font-size="9.6" text-anchor="middle" font-weight="bold" font-family='"Liberation Serif", serif' fill="#000">(&#181;l)</text>
<text x="0" y="0" transform="translate(660.20,194.60) rotate(-90)" font-size="9.6" text-anchor="middle" font-weight="bold" font-family='"Liberation Serif", serif' fill="#000">OD</text>
<text x="0" y="0" transform="translate(660.20,228.60) rotate(-90)" font-size="9.6" text-anchor="middle" font-weight="bold" font-family='"Liberation Serif", serif' fill="#000">AB</text>
<text x="0" y="0" transform="translate(660.20,257.10) rotate(-90)" font-size="9.6" text-anchor="middle" font-weight="bold" font-family='"Liberation Serif", serif' fill="#000">PR</text>
<text x="0" y="0" transform="translate(660.20,285.50) rotate(-90)" font-size="9.6" text-anchor="middle" font-weight="bold" font-family='"Liberation Serif", serif' fill="#000">IAA</text>
<rect x="506" y="180.4" width="141.00" height="29.30" fill="#474747"/>
<circle cx="514.60" cy="188.10" r="7.0" fill="#8e8e8e"/>
<circle cx="514.60" cy="188.10" r="5.3" fill="#45494e" stroke="#d4d4d4" stroke-width="1.4"/>
<path d="M518.40,184.30 A5.4,5.4 0 1 0 519.90,189.10" fill="none" stroke="#f6f6f6" stroke-width="1.5"/>
<ellipse cx="514.90" cy="190.70" rx="1.6" ry="0.7" fill="#c8c8c8"/>
<path d="M512.10,186.10 A3.0,3.0 0 0 1 516.90,185.90" fill="none" stroke="#8a8e92" stroke-width="0.8"/>
<circle cx="530.15" cy="188.10" r="7.0" fill="#8e8e8e"/>
<circle cx="530.15" cy="188.10" r="5.3" fill="#45494e" stroke="#d4d4d4" stroke-width="1.4"/>
<path d="M533.95,184.30 A5.4,5.4 0 1 0 535.45,189.10" fill="none" stroke="#f6f6f6" stroke-width="1.5"/>
<ellipse cx="530.45" cy="190.70" rx="1.6" ry="0.7" fill="#c8c8c8"/>
<path d="M527.65,186.10 A3.0,3.0 0 0 1 532.45,185.90" fill="none" stroke="#8a8e92" stroke-width="0.8"/>
<circle cx="545.70" cy="188.10" r="7.0" fill="#8e8e8e"/>
<circle cx="545.70" cy="188.10" r="5.3" fill="#45494e" stroke="#d4d4d4" stroke-width="1.4"/>
<path d="M549.50,184.30 A5.4,5.4 0 1 0 551.00,189.10" fill="none" stroke="#f6f6f6" stroke-width="1.5"/>
<ellipse cx="546.00" cy="190.70" rx="1.6" ry="0.7" fill="#c8c8c8"/>
<path d="M543.20,186.10 A3.0,3.0 0 0 1 548.00,185.90" fill="none" stroke="#8a8e92" stroke-width="0.8"/>
<circle cx="561.25" cy="188.10" r="7.0" fill="#8e8e8e"/>
<circle cx="561.25" cy="188.10" r="5.3" fill="#45494e" stroke="#d4d4d4" stroke-width="1.4"/>
<path d="M565.05,184.30 A5.4,5.4 0 1 0 566.55,189.10" fill="none" stroke="#f6f6f6" stroke-width="1.5"/>
<ellipse cx="561.55" cy="190.70" rx="1.6" ry="0.7" fill="#c8c8c8"/>
<path d="M558.75,186.10 A3.0,3.0 0 0 1 563.55,185.90" fill="none" stroke="#8a8e92" stroke-width="0.8"/>
<circle cx="576.80" cy="188.10" r="7.0" fill="#8e8e8e"/>
<circle cx="576.80" cy="188.10" r="5.3" fill="#45494e" stroke="#d4d4d4" stroke-width="1.4"/>
<path d="M580.60,184.30 A5.4,5.4 0 1 0 582.10,189.10" fill="none" stroke="#f6f6f6" stroke-width="1.5"/>
<ellipse cx="577.10" cy="190.70" rx="1.6" ry="0.7" fill="#c8c8c8"/>
<path d="M574.30,186.10 A3.0,3.0 0 0 1 579.10,185.90" fill="none" stroke="#8a8e92" stroke-width="0.8"/>
<circle cx="592.35" cy="188.10" r="7.0" fill="#8e8e8e"/>
<circle cx="592.35" cy="188.10" r="5.3" fill="#45494e" stroke="#d4d4d4" stroke-width="1.4"/>
<path d="M596.15,184.30 A5.4,5.4 0 1 0 597.65,189.10" fill="none" stroke="#f6f6f6" stroke-width="1.5"/>
<ellipse cx="592.65" cy="190.70" rx="1.6" ry="0.7" fill="#c8c8c8"/>
<path d="M589.85,186.10 A3.0,3.0 0 0 1 594.65,185.90" fill="none" stroke="#8a8e92" stroke-width="0.8"/>
<circle cx="607.90" cy="188.10" r="7.0" fill="#8e8e8e"/>
<circle cx="607.90" cy="188.10" r="5.3" fill="#45494e" stroke="#d4d4d4" stroke-width="1.4"/>
<path d="M611.70,184.30 A5.4,5.4 0 1 0 613.20,189.10" fill="none" stroke="#f6f6f6" stroke-width="1.5"/>
<ellipse cx="608.20" cy="190.70" rx="1.6" ry="0.7" fill="#c8c8c8"/>
<path d="M605.40,186.10 A3.0,3.0 0 0 1 610.20,185.90" fill="none" stroke="#8a8e92" stroke-width="0.8"/>
<circle cx="623.45" cy="188.10" r="7.0" fill="#8e8e8e"/>
<circle cx="623.45" cy="188.10" r="5.3" fill="#45494e" stroke="#d4d4d4" stroke-width="1.4"/>
<path d="M627.25,184.30 A5.4,5.4 0 1 0 628.75,189.10" fill="none" stroke="#f6f6f6" stroke-width="1.5"/>
<ellipse cx="623.75" cy="190.70" rx="1.6" ry="0.7" fill="#c8c8c8"/>
<path d="M620.95,186.10 A3.0,3.0 0 0 1 625.75,185.90" fill="none" stroke="#8a8e92" stroke-width="0.8"/>
<circle cx="639.00" cy="188.10" r="7.0" fill="#8e8e8e"/>
<circle cx="639.00" cy="188.10" r="5.3" fill="#45494e" stroke="#d4d4d4" stroke-width="1.4"/>
<path d="M642.80,184.30 A5.4,5.4 0 1 0 644.30,189.10" fill="none" stroke="#f6f6f6" stroke-width="1.5"/>
<ellipse cx="639.30" cy="190.70" rx="1.6" ry="0.7" fill="#c8c8c8"/>
<path d="M636.50,186.10 A3.0,3.0 0 0 1 641.30,185.90" fill="none" stroke="#8a8e92" stroke-width="0.8"/>
<circle cx="514.60" cy="201.70" r="7.0" fill="#8e8e8e"/>
<circle cx="514.60" cy="201.70" r="5.3" fill="#45494e" stroke="#d4d4d4" stroke-width="1.4"/>
<path d="M518.40,197.90 A5.4,5.4 0 1 0 519.90,202.70" fill="none" stroke="#f6f6f6" stroke-width="1.5"/>
<ellipse cx="514.90" cy="204.30" rx="1.6" ry="0.7" fill="#c8c8c8"/>
<path d="M512.10,199.70 A3.0,3.0 0 0 1 516.90,199.50" fill="none" stroke="#8a8e92" stroke-width="0.8"/>
<circle cx="530.15" cy="201.70" r="7.0" fill="#8e8e8e"/>
<circle cx="530.15" cy="201.70" r="5.3" fill="#45494e" stroke="#d4d4d4" stroke-width="1.4"/>
<path d="M533.95,197.90 A5.4,5.4 0 1 0 535.45,202.70" fill="none" stroke="#f6f6f6" stroke-width="1.5"/>
<ellipse cx="530.45" cy="204.30" rx="1.6" ry="0.7" fill="#c8c8c8"/>
<path d="M527.65,199.70 A3.0,3.0 0 0 1 532.45,199.50" fill="none" stroke="#8a8e92" stroke-width="0.8"/>
<circle cx="545.70" cy="201.70" r="7.0" fill="#8e8e8e"/>
<circle cx="545.70" cy="201.70" r="5.3" fill="#45494e" stroke="#d4d4d4" stroke-width="1.4"/>
<path d="M549.50,197.90 A5.4,5.4 0 1 0 551.00,202.70" fill="none" stroke="#f6f6f6" stroke-width="1.5"/>
<ellipse cx="546.00" cy="204.30" rx="1.6" ry="0.7" fill="#c8c8c8"/>
<path d="M543.20,199.70 A3.0,3.0 0 0 1 548.00,199.50" fill="none" stroke="#8a8e92" stroke-width="0.8"/>
<circle cx="561.25" cy="201.70" r="7.0" fill="#8e8e8e"/>
<circle cx="561.25" cy="201.70" r="5.3" fill="#45494e" stroke="#d4d4d4" stroke-width="1.4"/>
<path d="M565.05,197.90 A5.4,5.4 0 1 0 566.55,202.70" fill="none" stroke="#f6f6f6" stroke-width="1.5"/>
<ellipse cx="561.55" cy="204.30" rx="1.6" ry="0.7" fill="#c8c8c8"/>
<path d="M558.75,199.70 A3.0,3.0 0 0 1 563.55,199.50" fill="none" stroke="#8a8e92" stroke-width="0.8"/>
<circle cx="576.80" cy="201.70" r="7.0" fill="#8e8e8e"/>
<circle cx="576.80" cy="201.70" r="5.3" fill="#45494e" stroke="#d4d4d4" stroke-width="1.4"/>
<path d="M580.60,197.90 A5.4,5.4 0 1 0 582.10,202.70" fill="none" stroke="#f6f6f6" stroke-width="1.5"/>
<ellipse cx="577.10" cy="204.30" rx="1.6" ry="0.7" fill="#c8c8c8"/>
<path d="M574.30,199.70 A3.0,3.0 0 0 1 579.10,199.50" fill="none" stroke="#8a8e92" stroke-width="0.8"/>
<circle cx="592.35" cy="201.70" r="7.0" fill="#8e8e8e"/>
<circle cx="592.35" cy="201.70" r="5.3" fill="#45494e" stroke="#d4d4d4" stroke-width="1.4"/>
<path d="M596.15,197.90 A5.4,5.4 0 1 0 597.65,202.70" fill="none" stroke="#f6f6f6" stroke-width="1.5"/>
<ellipse cx="592.65" cy="204.30" rx="1.6" ry="0.7" fill="#c8c8c8"/>
<path d="M589.85,199.70 A3.0,3.0 0 0 1 594.65,199.50" fill="none" stroke="#8a8e92" stroke-width="0.8"/>
<circle cx="607.90" cy="201.70" r="7.0" fill="#8e8e8e"/>
<circle cx="607.90" cy="201.70" r="5.3" fill="#45494e" stroke="#d4d4d4" stroke-width="1.4"/>
<path d="M611.70,197.90 A5.4,5.4 0 1 0 613.20,202.70" fill="none" stroke="#f6f6f6" stroke-width="1.5"/>
<ellipse cx="608.20" cy="204.30" rx="1.6" ry="0.7" fill="#c8c8c8"/>
<path d="M605.40,199.70 A3.0,3.0 0 0 1 610.20,199.50" fill="none" stroke="#8a8e92" stroke-width="0.8"/>
<circle cx="623.45" cy="201.70" r="7.0" fill="#8e8e8e"/>
<circle cx="623.45" cy="201.70" r="5.3" fill="#45494e" stroke="#d4d4d4" stroke-width="1.4"/>
<path d="M627.25,197.90 A5.4,5.4 0 1 0 628.75,202.70" fill="none" stroke="#f6f6f6" stroke-width="1.5"/>
<ellipse cx="623.75" cy="204.30" rx="1.6" ry="0.7" fill="#c8c8c8"/>
<path d="M620.95,199.70 A3.0,3.0 0 0 1 625.75,199.50" fill="none" stroke="#8a8e92" stroke-width="0.8"/>
<circle cx="639.00" cy="201.70" r="7.0" fill="#8e8e8e"/>
<circle cx="639.00" cy="201.70" r="5.3" fill="#45494e" stroke="#d4d4d4" stroke-width="1.4"/>
<path d="M642.80,197.90 A5.4,5.4 0 1 0 644.30,202.70" fill="none" stroke="#f6f6f6" stroke-width="1.5"/>
<ellipse cx="639.30" cy="204.30" rx="1.6" ry="0.7" fill="#c8c8c8"/>
<path d="M636.50,199.70 A3.0,3.0 0 0 1 641.30,199.50" fill="none" stroke="#8a8e92" stroke-width="0.8"/>
<rect x="506" y="212.2" width="142.00" height="27.00" fill="#b4b0b8"/>
<circle cx="515.80" cy="219.70" r="5.90" fill="none" stroke="#dcd8e0" stroke-width="1.9" opacity="0.9"/>
<circle cx="515.80" cy="219.70" r="5.10" fill="#8272c2"/>
<circle cx="515.80" cy="219.70" r="5.10" fill="url(#wg)"/>
<circle cx="531.22" cy="219.70" r="5.90" fill="none" stroke="#dcd8e0" stroke-width="1.9" opacity="0.9"/>
<circle cx="531.22" cy="219.70" r="5.10" fill="#9676c6"/>
<circle cx="531.22" cy="219.70" r="5.10" fill="url(#wg)"/>
<circle cx="546.65" cy="219.70" r="5.90" fill="none" stroke="#dcd8e0" stroke-width="1.9" opacity="0.9"/>
<circle cx="546.65" cy="219.70" r="5.10" fill="#9878c6"/>
<circle cx="546.65" cy="219.70" r="5.10" fill="url(#wg)"/>
<circle cx="562.08" cy="219.70" r="5.90" fill="none" stroke="#dcd8e0" stroke-width="1.9" opacity="0.9"/>
<circle cx="562.08" cy="219.70" r="5.10" fill="#9474c4"/>
<circle cx="562.08" cy="219.70" r="5.10" fill="url(#wg)"/>
<circle cx="577.50" cy="219.70" r="5.90" fill="none" stroke="#dcd8e0" stroke-width="1.9" opacity="0.9"/>
<circle cx="577.50" cy="219.70" r="5.10" fill="#9c7cc8"/>
<circle cx="577.50" cy="219.70" r="5.10" fill="url(#wg)"/>
<circle cx="592.92" cy="219.70" r="5.90" fill="none" stroke="#dcd8e0" stroke-width="1.9" opacity="0.9"/>
<circle cx="592.92" cy="219.70" r="5.10" fill="#9a76c4"/>
<circle cx="592.92" cy="219.70" r="5.10" fill="url(#wg)"/>
<circle cx="608.35" cy="219.70" r="5.90" fill="none" stroke="#dcd8e0" stroke-width="1.9" opacity="0.9"/>
<circle cx="608.35" cy="219.70" r="5.10" fill="#9c76c2"/>
<circle cx="608.35" cy="219.70" r="5.10" fill="url(#wg)"/>
<circle cx="623.78" cy="219.70" r="5.90" fill="none" stroke="#dcd8e0" stroke-width="1.9" opacity="0.9"/>
<circle cx="623.78" cy="219.70" r="5.10" fill="#a27ac2"/>
<circle cx="623.78" cy="219.70" r="5.10" fill="url(#wg)"/>
<circle cx="639.20" cy="219.70" r="5.90" fill="none" stroke="#dcd8e0" stroke-width="1.9" opacity="0.9"/>
<circle cx="639.20" cy="219.70" r="5.10" fill="#b086c0"/>
<circle cx="639.20" cy="219.70" r="5.10" fill="url(#wg)"/>
<circle cx="515.80" cy="233.30" r="5.90" fill="none" stroke="#dcd8e0" stroke-width="1.9" opacity="0.9"/>
<circle cx="515.80" cy="233.30" r="5.10" fill="#8272c2"/>
<circle cx="515.80" cy="233.30" r="5.10" fill="url(#wg)"/>
<circle cx="531.22" cy="233.30" r="5.90" fill="none" stroke="#dcd8e0" stroke-width="1.9" opacity="0.9"/>
<circle cx="531.22" cy="233.30" r="5.10" fill="#9676c6"/>
<circle cx="531.22" cy="233.30" r="5.10" fill="url(#wg)"/>
<circle cx="546.65" cy="233.30" r="5.90" fill="none" stroke="#dcd8e0" stroke-width="1.9" opacity="0.9"/>
<circle cx="546.65" cy="233.30" r="5.10" fill="#9878c6"/>
<circle cx="546.65" cy="233.30" r="5.10" fill="url(#wg)"/>
<circle cx="562.08" cy="233.30" r="5.90" fill="none" stroke="#dcd8e0" stroke-width="1.9" opacity="0.9"/>
<circle cx="562.08" cy="233.30" r="5.10" fill="#9474c4"/>
<circle cx="562.08" cy="233.30" r="5.10" fill="url(#wg)"/>
<circle cx="577.50" cy="233.30" r="5.90" fill="none" stroke="#dcd8e0" stroke-width="1.9" opacity="0.9"/>
<circle cx="577.50" cy="233.30" r="5.10" fill="#9c7cc8"/>
<circle cx="577.50" cy="233.30" r="5.10" fill="url(#wg)"/>
<circle cx="592.92" cy="233.30" r="5.90" fill="none" stroke="#dcd8e0" stroke-width="1.9" opacity="0.9"/>
<circle cx="592.92" cy="233.30" r="5.10" fill="#9a76c4"/>
<circle cx="592.92" cy="233.30" r="5.10" fill="url(#wg)"/>
<circle cx="608.35" cy="233.30" r="5.90" fill="none" stroke="#dcd8e0" stroke-width="1.9" opacity="0.9"/>
<circle cx="608.35" cy="233.30" r="5.10" fill="#9c76c2"/>
<circle cx="608.35" cy="233.30" r="5.10" fill="url(#wg)"/>
<circle cx="623.78" cy="233.30" r="5.90" fill="none" stroke="#dcd8e0" stroke-width="1.9" opacity="0.9"/>
<circle cx="623.78" cy="233.30" r="5.10" fill="#a27ac2"/>
<circle cx="623.78" cy="233.30" r="5.10" fill="url(#wg)"/>
<circle cx="639.20" cy="233.30" r="5.90" fill="none" stroke="#dcd8e0" stroke-width="1.9" opacity="0.9"/>
<circle cx="639.20" cy="233.30" r="5.10" fill="#b086c0"/>
<circle cx="639.20" cy="233.30" r="5.10" fill="url(#wg)"/>
<rect x="506" y="242.1" width="142.00" height="26.40" fill="#aaa19d"/>
<circle cx="515.70" cy="248.90" r="5.90" fill="none" stroke="#cfc2bc" stroke-width="1.9" opacity="0.9"/>
<circle cx="515.70" cy="248.90" r="5.10" fill="#c65656"/>
<circle cx="515.70" cy="248.90" r="5.10" fill="url(#wg)"/>
<circle cx="531.31" cy="248.90" r="5.90" fill="none" stroke="#cfc2bc" stroke-width="1.9" opacity="0.9"/>
<circle cx="531.31" cy="248.90" r="5.10" fill="#d09a50"/>
<circle cx="531.31" cy="248.90" r="5.10" fill="url(#wg)"/>
<circle cx="546.93" cy="248.90" r="5.90" fill="none" stroke="#cfc2bc" stroke-width="1.9" opacity="0.9"/>
<circle cx="546.93" cy="248.90" r="5.10" fill="#d19e50"/>
<circle cx="546.93" cy="248.90" r="5.10" fill="url(#wg)"/>
<circle cx="562.54" cy="248.90" r="5.90" fill="none" stroke="#cfc2bc" stroke-width="1.9" opacity="0.9"/>
<circle cx="562.54" cy="248.90" r="5.10" fill="#ca7454"/>
<circle cx="562.54" cy="248.90" r="5.10" fill="url(#wg)"/>
<circle cx="578.15" cy="248.90" r="5.90" fill="none" stroke="#cfc2bc" stroke-width="1.9" opacity="0.9"/>
<circle cx="578.15" cy="248.90" r="5.10" fill="#ca7254"/>
<circle cx="578.15" cy="248.90" r="5.10" fill="url(#wg)"/>
<circle cx="593.76" cy="248.90" r="5.90" fill="none" stroke="#cfc2bc" stroke-width="1.9" opacity="0.9"/>
<circle cx="593.76" cy="248.90" r="5.10" fill="#c64a62"/>
<circle cx="593.76" cy="248.90" r="5.10" fill="url(#wg)"/>
<circle cx="609.38" cy="248.90" r="5.90" fill="none" stroke="#cfc2bc" stroke-width="1.9" opacity="0.9"/>
<circle cx="609.38" cy="248.90" r="5.10" fill="#c84c66"/>
<circle cx="609.38" cy="248.90" r="5.10" fill="url(#wg)"/>
<circle cx="624.99" cy="248.90" r="5.90" fill="none" stroke="#cfc2bc" stroke-width="1.9" opacity="0.9"/>
<circle cx="624.99" cy="248.90" r="5.10" fill="#c64a72"/>
<circle cx="624.99" cy="248.90" r="5.10" fill="url(#wg)"/>
<circle cx="640.60" cy="248.90" r="5.90" fill="none" stroke="#cfc2bc" stroke-width="1.9" opacity="0.9"/>
<circle cx="640.60" cy="248.90" r="5.10" fill="#c86080"/>
<circle cx="640.60" cy="248.90" r="5.10" fill="url(#wg)"/>
<circle cx="515.70" cy="261.80" r="5.90" fill="none" stroke="#cfc2bc" stroke-width="1.9" opacity="0.9"/>
<circle cx="515.70" cy="261.80" r="5.10" fill="#c65656"/>
<circle cx="515.70" cy="261.80" r="5.10" fill="url(#wg)"/>
<circle cx="531.31" cy="261.80" r="5.90" fill="none" stroke="#cfc2bc" stroke-width="1.9" opacity="0.9"/>
<circle cx="531.31" cy="261.80" r="5.10" fill="#d09a50"/>
<circle cx="531.31" cy="261.80" r="5.10" fill="url(#wg)"/>
<circle cx="546.93" cy="261.80" r="5.90" fill="none" stroke="#cfc2bc" stroke-width="1.9" opacity="0.9"/>
<circle cx="546.93" cy="261.80" r="5.10" fill="#d19e50"/>
<circle cx="546.93" cy="261.80" r="5.10" fill="url(#wg)"/>
<circle cx="562.54" cy="261.80" r="5.90" fill="none" stroke="#cfc2bc" stroke-width="1.9" opacity="0.9"/>
<circle cx="562.54" cy="261.80" r="5.10" fill="#ca7454"/>
<circle cx="562.54" cy="261.80" r="5.10" fill="url(#wg)"/>
<circle cx="578.15" cy="261.80" r="5.90" fill="none" stroke="#cfc2bc" stroke-width="1.9" opacity="0.9"/>
<circle cx="578.15" cy="261.80" r="5.10" fill="#ca7254"/>
<circle cx="578.15" cy="261.80" r="5.10" fill="url(#wg)"/>
<circle cx="593.76" cy="261.80" r="5.90" fill="none" stroke="#cfc2bc" stroke-width="1.9" opacity="0.9"/>
<circle cx="593.76" cy="261.80" r="5.10" fill="#c64a62"/>
<circle cx="593.76" cy="261.80" r="5.10" fill="url(#wg)"/>
<circle cx="609.38" cy="261.80" r="5.90" fill="none" stroke="#cfc2bc" stroke-width="1.9" opacity="0.9"/>
<circle cx="609.38" cy="261.80" r="5.10" fill="#c84c66"/>
<circle cx="609.38" cy="261.80" r="5.10" fill="url(#wg)"/>
<circle cx="624.99" cy="261.80" r="5.90" fill="none" stroke="#cfc2bc" stroke-width="1.9" opacity="0.9"/>
<circle cx="624.99" cy="261.80" r="5.10" fill="#c64a72"/>
<circle cx="624.99" cy="261.80" r="5.10" fill="url(#wg)"/>
<circle cx="640.60" cy="261.80" r="5.90" fill="none" stroke="#cfc2bc" stroke-width="1.9" opacity="0.9"/>
<circle cx="640.60" cy="261.80" r="5.10" fill="#c86080"/>
<circle cx="640.60" cy="261.80" r="5.10" fill="url(#wg)"/>
<rect x="506" y="271.4" width="141.20" height="27.20" fill="#cfc4c6"/>
<circle cx="515.10" cy="277.70" r="6.00" fill="none" stroke="#ebe3e5" stroke-width="1.9" opacity="0.9"/>
<circle cx="515.10" cy="277.70" r="5.20" fill="#dcb0b0"/>
<circle cx="515.10" cy="277.70" r="5.20" fill="url(#wg)"/>
<circle cx="530.61" cy="277.70" r="6.00" fill="none" stroke="#ebe3e5" stroke-width="1.9" opacity="0.9"/>
<circle cx="530.61" cy="277.70" r="5.20" fill="#de9098"/>
<circle cx="530.61" cy="277.70" r="5.20" fill="url(#wg)"/>
<circle cx="546.12" cy="277.70" r="6.00" fill="none" stroke="#ebe3e5" stroke-width="1.9" opacity="0.9"/>
<circle cx="546.12" cy="277.70" r="5.20" fill="#da8290"/>
<circle cx="546.12" cy="277.70" r="5.20" fill="url(#wg)"/>
<circle cx="561.64" cy="277.70" r="6.00" fill="none" stroke="#ebe3e5" stroke-width="1.9" opacity="0.9"/>
<circle cx="561.64" cy="277.70" r="5.20" fill="#da7488"/>
<circle cx="561.64" cy="277.70" r="5.20" fill="url(#wg)"/>
<circle cx="577.15" cy="277.70" r="6.00" fill="none" stroke="#ebe3e5" stroke-width="1.9" opacity="0.9"/>
<circle cx="577.15" cy="277.70" r="5.20" fill="#da6a80"/>
<circle cx="577.15" cy="277.70" r="5.20" fill="url(#wg)"/>
<circle cx="592.66" cy="277.70" r="6.00" fill="none" stroke="#ebe3e5" stroke-width="1.9" opacity="0.9"/>
<circle cx="592.66" cy="277.70" r="5.20" fill="#d24a5a"/>
<circle cx="592.66" cy="277.70" r="5.20" fill="url(#wg)"/>
<circle cx="608.18" cy="277.70" r="6.00" fill="none" stroke="#ebe3e5" stroke-width="1.9" opacity="0.9"/>
<circle cx="608.18" cy="277.70" r="5.20" fill="#d24656"/>
<circle cx="608.18" cy="277.70" r="5.20" fill="url(#wg)"/>
<circle cx="623.69" cy="277.70" r="6.00" fill="none" stroke="#ebe3e5" stroke-width="1.9" opacity="0.9"/>
<circle cx="623.69" cy="277.70" r="5.20" fill="#d24656"/>
<circle cx="623.69" cy="277.70" r="5.20" fill="url(#wg)"/>
<circle cx="639.20" cy="277.70" r="6.00" fill="none" stroke="#ebe3e5" stroke-width="1.9" opacity="0.9"/>
<circle cx="639.20" cy="277.70" r="5.20" fill="#d44656"/>
<circle cx="639.20" cy="277.70" r="5.20" fill="url(#wg)"/>
<circle cx="515.10" cy="291.70" r="6.00" fill="none" stroke="#ebe3e5" stroke-width="1.9" opacity="0.9"/>
<circle cx="515.10" cy="291.70" r="5.20" fill="#dcb0b0"/>
<circle cx="515.10" cy="291.70" r="5.20" fill="url(#wg)"/>
<circle cx="530.61" cy="291.70" r="6.00" fill="none" stroke="#ebe3e5" stroke-width="1.9" opacity="0.9"/>
<circle cx="530.61" cy="291.70" r="5.20" fill="#de9098"/>
<circle cx="530.61" cy="291.70" r="5.20" fill="url(#wg)"/>
<circle cx="546.12" cy="291.70" r="6.00" fill="none" stroke="#ebe3e5" stroke-width="1.9" opacity="0.9"/>
<circle cx="546.12" cy="291.70" r="5.20" fill="#da8290"/>
<circle cx="546.12" cy="291.70" r="5.20" fill="url(#wg)"/>
<circle cx="561.64" cy="291.70" r="6.00" fill="none" stroke="#ebe3e5" stroke-width="1.9" opacity="0.9"/>
<circle cx="561.64" cy="291.70" r="5.20" fill="#da7488"/>
<circle cx="561.64" cy="291.70" r="5.20" fill="url(#wg)"/>
<circle cx="577.15" cy="291.70" r="6.00" fill="none" stroke="#ebe3e5" stroke-width="1.9" opacity="0.9"/>
<circle cx="577.15" cy="291.70" r="5.20" fill="#da6a80"/>
<circle cx="577.15" cy="291.70" r="5.20" fill="url(#wg)"/>
<circle cx="592.66" cy="291.70" r="6.00" fill="none" stroke="#ebe3e5" stroke-width="1.9" opacity="0.9"/>
<circle cx="592.66" cy="291.70" r="5.20" fill="#d24a5a"/>
<circle cx="592.66" cy="291.70" r="5.20" fill="url(#wg)"/>
<circle cx="608.18" cy="291.70" r="6.00" fill="none" stroke="#ebe3e5" stroke-width="1.9" opacity="0.9"/>
<circle cx="608.18" cy="291.70" r="5.20" fill="#d24656"/>
<circle cx="608.18" cy="291.70" r="5.20" fill="url(#wg)"/>
<circle cx="623.69" cy="291.70" r="6.00" fill="none" stroke="#ebe3e5" stroke-width="1.9" opacity="0.9"/>
<circle cx="623.69" cy="291.70" r="5.20" fill="#d24656"/>
<circle cx="623.69" cy="291.70" r="5.20" fill="url(#wg)"/>
<circle cx="639.20" cy="291.70" r="6.00" fill="none" stroke="#ebe3e5" stroke-width="1.9" opacity="0.9"/>
<circle cx="639.20" cy="291.70" r="5.20" fill="#d44656"/>
<circle cx="639.20" cy="291.70" r="5.20" fill="url(#wg)"/>
</svg>
</body></html>
